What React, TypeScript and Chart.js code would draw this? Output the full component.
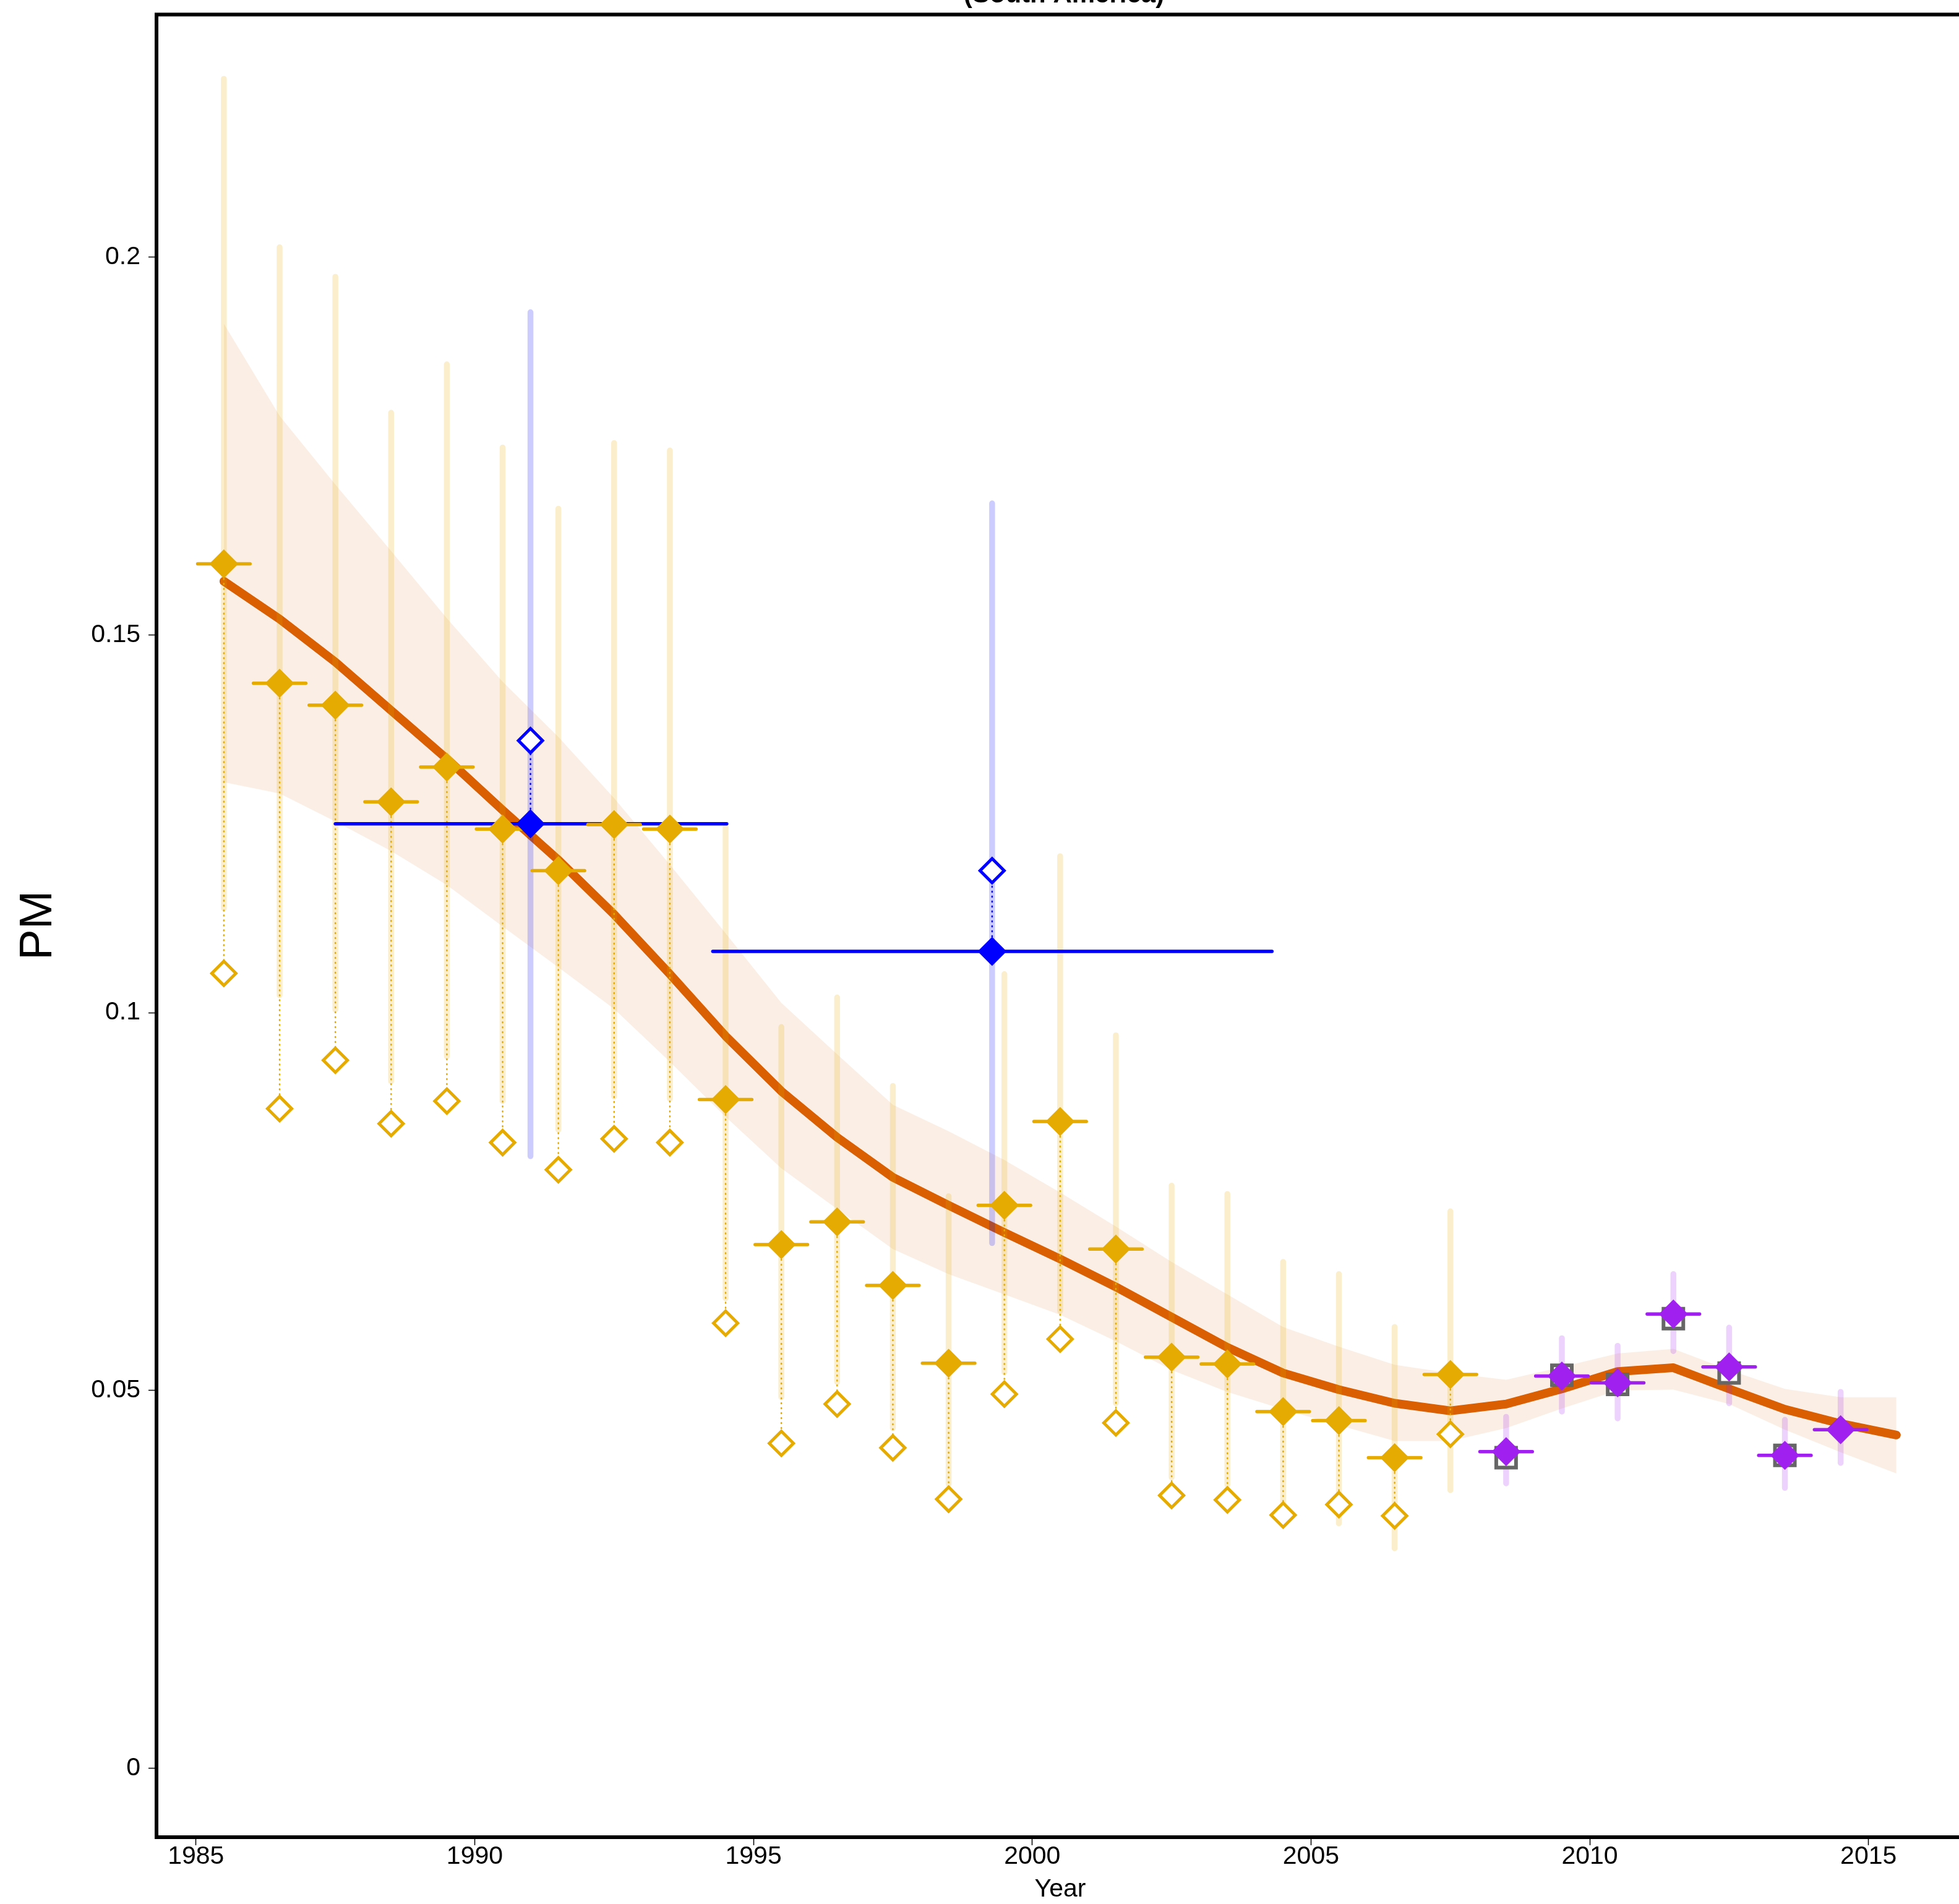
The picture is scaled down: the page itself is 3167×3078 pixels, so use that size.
import React, { useEffect, useRef } from "react";
import { Chart, registerables } from "chart.js";

Chart.register(...registerables);

const W = 3167;
const H = 3078;
const FONT = "'Liberation Sans', Arial, Helvetica, sans-serif";

const GOLD = "#E6AB02";
const GOLD_LIGHT = "rgba(230,171,2,0.2)";
const ORANGE = "#D95F02";
const BAND = "rgba(217,95,2,0.1)";
const BLUE = "#0000FF";
const BLUE_LIGHT = "rgba(0,0,255,0.2)";
const PURPLE = "#A020F0";
const PURPLE_LIGHT = "rgba(160,32,240,0.2)";
const GRAY = "#666666";

// ---- axis ticks ----
const xTicks = [1985, 1990, 1995, 2000, 2005, 2010, 2015];
const yTicks = [0, 0.05, 0.1, 0.15, 0.2];
const yTickLabels = ["0", "0.05", "0.1", "0.15", "0.2"];
const X_MIN = 1984.292;
const X_MAX = 2016.623;
const Y_MIN = -0.009137;
const Y_MAX = 0.23211;

// ---- gold series (annual estimates) ----
const goldYears = [1985.5, 1986.5, 1987.5, 1988.5, 1989.5, 1990.5, 1991.5, 1992.5, 1993.5, 1994.5, 1995.5, 1996.5, 1997.5, 1998.5, 1999.5, 2000.5, 2001.5, 2002.5, 2003.5, 2004.5, 2005.5, 2006.5, 2007.5];
const goldEst = [0.1594, 0.1436, 0.1407, 0.1279, 0.1325, 0.1243, 0.1188, 0.1249, 0.1243, 0.0885, 0.0693, 0.0723, 0.0639, 0.0536, 0.0745, 0.0856, 0.0687, 0.0544, 0.0535, 0.0472, 0.0460, 0.0411, 0.0521];
const goldAlt = [0.1052, 0.0873, 0.0937, 0.0853, 0.0883, 0.0828, 0.0792, 0.0833, 0.0828, 0.0589, 0.0430, 0.0482, 0.0424, 0.0356, 0.0495, 0.0568, 0.0457, 0.0361, 0.0355, 0.0335, 0.0349, 0.0334, 0.0442];
const goldHi = [0.2236, 0.2013, 0.1974, 0.1794, 0.1858, 0.1748, 0.1667, 0.1754, 0.1744, 0.1246, 0.0981, 0.1020, 0.0903, 0.0757, 0.1051, 0.1207, 0.0970, 0.0771, 0.0760, 0.0670, 0.0654, 0.0584, 0.0737];
const goldLo = [0.1138, 0.1023, 0.1004, 0.0909, 0.0942, 0.0883, 0.0845, 0.0889, 0.0886, 0.0622, 0.0491, 0.0511, 0.0450, 0.0376, 0.0524, 0.0605, 0.0483, 0.0385, 0.0375, 0.0351, 0.0324, 0.0291, 0.0368];
const goldHalfWidth = 0.47;

// ---- blue series (multi-year estimates) ----
const blueYears = [1991.0, 1999.28];
const blueEst = [0.125, 0.1081];
const blueAlt = [0.136, 0.1188];
const blueFrom = [1987.5, 1994.27];
const blueTo = [1994.52, 2004.3];
const blueHi = [0.1927, 0.1674];
const blueLo = [0.081, 0.0695];

// ---- purple series ----
const purpleYears = [2008.5, 2009.5, 2010.5, 2011.5, 2012.5, 2013.5, 2014.5];
const purpleEst = [0.0419, 0.0519, 0.051, 0.0601, 0.0531, 0.0414, 0.0448];
const purpleHi = [0.0465, 0.0569, 0.0559, 0.0654, 0.0583, 0.0461, 0.0498];
const purpleLo = [0.0377, 0.0472, 0.0463, 0.0552, 0.0483, 0.0371, 0.0404];
const purpleHalfWidth = 0.47;

// ---- gray squares ----
const grayYears = [2008.5, 2009.5, 2010.5, 2011.5, 2012.5, 2013.5];
const grayVals = [0.0411, 0.052, 0.0508, 0.0595, 0.0523, 0.0414];

// ---- smoothed fit and band ----
const fitYears = [1985.5, 1986.5, 1987.5, 1988.5, 1989.5, 1990.5, 1991.5, 1992.5, 1993.5, 1994.5, 1995.5, 1996.5, 1997.5, 1998.5, 1999.5, 2000.5, 2001.5, 2002.5, 2003.5, 2004.5, 2005.5, 2006.5, 2007.5, 2008.5, 2009.5, 2010.5, 2011.5, 2012.5, 2013.5, 2014.5, 2015.5];
const fitVals = [0.1571, 0.1521, 0.1464, 0.14, 0.1336, 0.1268, 0.1202, 0.113, 0.1051, 0.0969, 0.0896, 0.0835, 0.0782, 0.0745, 0.0709, 0.0674, 0.0637, 0.0597, 0.0557, 0.0523, 0.0501, 0.0483, 0.0473, 0.0482, 0.0502, 0.0525, 0.053, 0.0502, 0.0475, 0.0456, 0.0441];
const bandUpper = [0.1912, 0.179, 0.1699, 0.1611, 0.1522, 0.1438, 0.1365, 0.1284, 0.1196, 0.1105, 0.1013, 0.0945, 0.0878, 0.0843, 0.0805, 0.0762, 0.0717, 0.067, 0.0627, 0.0584, 0.0558, 0.0534, 0.0523, 0.0514, 0.0531, 0.0549, 0.0555, 0.0527, 0.0502, 0.0491, 0.0491];
const bandLower = [0.1305, 0.129, 0.1253, 0.1214, 0.1169, 0.1114, 0.106, 0.1005, 0.0935, 0.0862, 0.0794, 0.074, 0.0687, 0.0654, 0.0627, 0.06, 0.0565, 0.0527, 0.0498, 0.0475, 0.0454, 0.0433, 0.0433, 0.045, 0.0476, 0.05, 0.0501, 0.0482, 0.0448, 0.0418, 0.039];

type P = { x: number; y: number | null };

const pts = (xs: number[], ys: number[]): P[] => xs.map((x, i) => ({ x, y: ys[i] }));

const vSegs = (xs: number[], a: number[], b: number[]): P[] => {
  const out: P[] = [];
  xs.forEach((x, i) => {
    out.push({ x, y: a[i] }, { x, y: b[i] }, { x, y: null });
  });
  return out;
};

const hSegs = (x1: number[], x2: number[], ys: number[]): P[] => {
  const out: P[] = [];
  ys.forEach((y, i) => {
    out.push({ x: x1[i], y }, { x: x2[i], y }, { x: x2[i], y: null });
  });
  return out;
};

const lineDs = (data: P[], color: string, width: number, order: number, extra: any = {}) => ({
  data,
  borderColor: color,
  borderWidth: width,
  borderCapStyle: "round",
  borderJoinStyle: "round",
  pointRadius: 0,
  showLine: true,
  spanGaps: false,
  fill: false,
  tension: 0,
  order,
  ...extra,
});

const markerDs = (data: P[], style: string, radius: number, bg: string, border: string, bw: number, order: number) => ({
  data,
  showLine: false,
  pointStyle: style,
  pointRadius: radius,
  pointBackgroundColor: bg,
  pointBorderColor: border,
  pointBorderWidth: bw,
  order,
});

const zeroPad = (s: any) => {
  s.paddingLeft = 0;
  s.paddingRight = 0;
  s.paddingTop = 0;
  s.paddingBottom = 0;
};

const textPlugin = {
  id: "texts",
  afterDraw(chart: any) {
    const { ctx, chartArea } = chart;
    ctx.save();
    // top frame line
    ctx.strokeStyle = "#000";
    ctx.lineWidth = 6;
    ctx.beginPath();
    ctx.moveTo(chartArea.left - 3, chartArea.top);
    ctx.lineTo(W, chartArea.top);
    ctx.stroke();
    // title (cut at top)
    ctx.fillStyle = "#000";
    ctx.font = `bold 42px ${FONT}`;
    ctx.textAlign = "center";
    ctx.textBaseline = "alphabetic";
    ctx.fillText("(South America)", 1720, 4);
    // x title
    ctx.font = `41px ${FONT}`;
    ctx.fillText("Year", 1714, 3066);
    // y title
    ctx.translate(82.5, 1496);
    ctx.rotate(-Math.PI / 2);
    ctx.font = `75px ${FONT}`;
    ctx.textAlign = "center";
    ctx.textBaseline = "alphabetic";
    ctx.fillText("PM", 0, 0);
    ctx.restore();
  },
};

export default function App() {
  const ref = useRef<HTMLCanvasElement>(null);
  useEffect(() => {
    if (!ref.current) return;
    const datasets: any[] = [
      lineDs(pts(fitYears, bandUpper), "rgba(0,0,0,0)", 0, 100),
      lineDs(pts(fitYears, bandLower), "rgba(0,0,0,0)", 0, 99, { fill: "-1", backgroundColor: BAND }),
      lineDs(pts(fitYears, fitVals), ORANGE, 14, 90),
      lineDs(vSegs(goldYears, goldLo, goldHi), GOLD_LIGHT, 9.5, 80),
      lineDs(vSegs(blueYears, blueLo, blueHi), BLUE_LIGHT, 9.5, 79),
      lineDs(vSegs(purpleYears, purpleLo, purpleHi), PURPLE_LIGHT, 9.5, 78),
      lineDs(vSegs(goldYears, goldEst, goldAlt), GOLD, 2.5, 70, { borderDash: [1, 7], borderCapStyle: "round" }),
      lineDs(vSegs(blueYears, blueEst, blueAlt), BLUE, 2.5, 69, { borderDash: [1, 7], borderCapStyle: "round" }),
      lineDs(hSegs(blueFrom, blueTo, blueEst), BLUE, 5.5, 60),
      lineDs(hSegs(goldYears.map((x) => x - goldHalfWidth), goldYears.map((x) => x + goldHalfWidth), goldEst), GOLD, 5.5, 59),
      lineDs(hSegs(purpleYears.map((x) => x - purpleHalfWidth), purpleYears.map((x) => x + purpleHalfWidth), purpleEst), PURPLE, 5.5, 58),
      markerDs(pts(goldYears, goldAlt), "rectRot", 19.5, "#FFFFFF", GOLD, 5, 50),
      markerDs(pts(blueYears, blueAlt), "rectRot", 19.5, "#FFFFFF", BLUE, 5, 49),
      markerDs(pts(grayYears, grayVals), "rect", 22.6, "#FFFFFF", GRAY, 6, 48),
      markerDs(pts(goldYears, goldEst), "rectRot", 23.5, GOLD, GOLD, 0, 40),
      markerDs(pts(blueYears, blueEst), "rectRot", 23.5, BLUE, BLUE, 0, 39),
      markerDs(pts(purpleYears, purpleEst), "rectRot", 23.5, PURPLE, PURPLE, 0, 38),
    ];

    const chart = new Chart(ref.current, {
      type: "line",
      data: { datasets },
      plugins: [textPlugin],
      options: {
        animation: false,
        responsive: false,
        devicePixelRatio: 1,
        events: [],
        layout: { autoPadding: false, padding: { top: 23.5, left: 0, right: 0, bottom: 0 } },
        plugins: {
          legend: { display: false },
          tooltip: { enabled: false },
          title: { display: false },
        },
        scales: {
          x: {
            type: "linear",
            min: X_MIN,
            max: X_MAX,
            afterBuildTicks: (s: any) => {
              s.ticks = xTicks.map((v) => ({ value: v }));
            },
            afterFit: (s: any) => {
              s.height = H - 2970;
              zeroPad(s);
            },
            border: { display: true, color: "#000", width: 6 },
            grid: { display: true, drawOnChartArea: false, drawTicks: true, tickLength: 13, tickWidth: 1.5, tickColor: "#000" },
            ticks: {
              autoSkip: false,
              maxRotation: 0,
              minRotation: 0,
              color: "#000",
              padding: -1.5,
              font: { family: FONT, size: 41, lineHeight: 1 },
              callback: (v: any) => String(v),
            },
          },
          y: {
            type: "linear",
            min: Y_MIN,
            max: Y_MAX,
            afterBuildTicks: (s: any) => {
              s.ticks = yTicks.map((v) => ({ value: v }));
            },
            afterFit: (s: any) => {
              s.width = 253;
              zeroPad(s);
            },
            border: { display: true, color: "#000", width: 6 },
            grid: { display: true, drawOnChartArea: false, drawTicks: true, tickLength: 13, tickWidth: 1.5, tickColor: "#000" },
            ticks: {
              autoSkip: false,
              color: "#000",
              padding: 13,
              font: { family: FONT, size: 41, lineHeight: 1 },
              callback: (v: any) => {
                const i = yTicks.indexOf(v);
                return i >= 0 ? yTickLabels[i] : "";
              },
            },
          },
        },
      } as any,
    });
    return () => chart.destroy();
  }, []);

  return (
    <div style={{ position: "absolute", left: 0, top: 0, width: W, height: H, background: "#fff" }}>
      <canvas ref={ref} width={W} height={H} style={{ width: W, height: H, display: "block" }} />
    </div>
  );
}
